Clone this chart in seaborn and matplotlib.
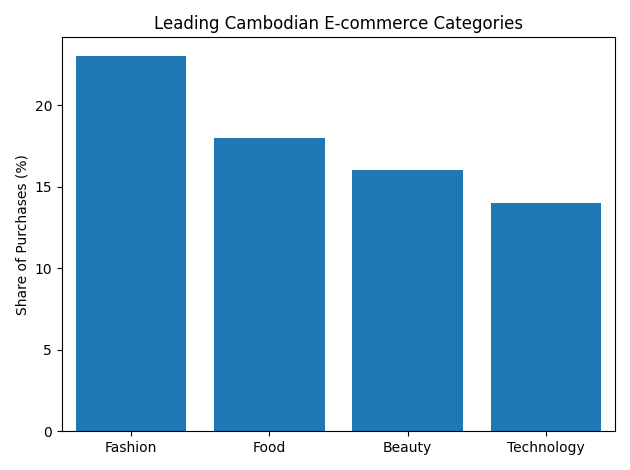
import pandas as pd
import matplotlib
matplotlib.use('Agg')
import matplotlib.pyplot as plt
import seaborn as sns

categories = ['Fashion', 'Food', 'Beauty', 'Technology']
shares = [23, 18, 16, 14]

df = pd.DataFrame({'category': categories, 'share': shares})

fig, ax = plt.subplots(figsize=(6.3, 4.7), dpi=100)
sns.barplot(data=df, x='category', y='share', color='#1f77b4', saturation=1, width=0.8, ax=ax)
ax.set_title('Leading Cambodian E-commerce Categories')
ax.set_xlabel('')
ax.set_ylabel('Share of Purchases (%)')
plt.tight_layout()
plt.savefig('out.png', dpi=100)
